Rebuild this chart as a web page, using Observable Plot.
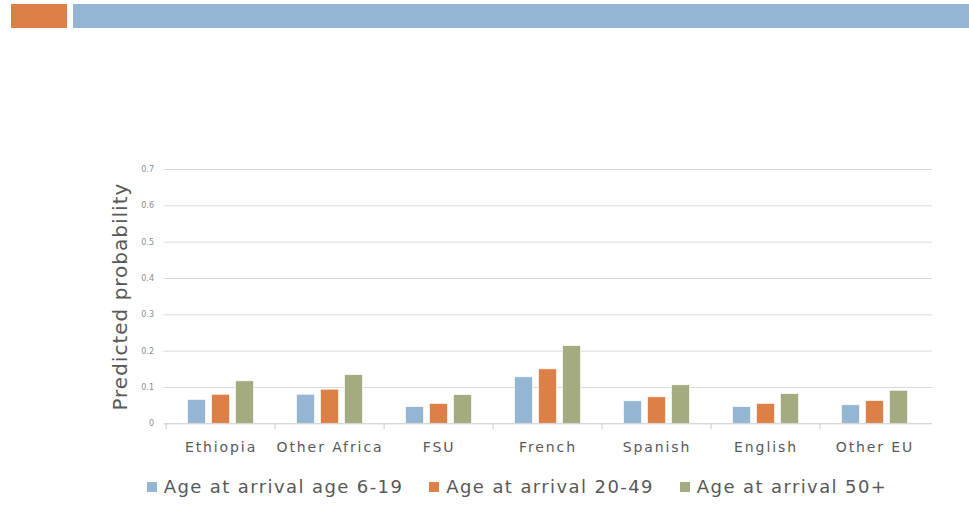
<!DOCTYPE html>
<html>
<head>
<meta charset="utf-8">
<script src="https://cdn.jsdelivr.net/npm/d3@7"></script>
<script src="https://cdn.jsdelivr.net/npm/@observablehq/plot@0.6"></script>
<style>
  html, body { margin: 0; padding: 0; background: #fff; }
  body { width: 969px; height: 507px; position: relative; overflow: hidden; font-family: "DejaVu Sans", sans-serif; }
  .hdr { position: absolute; top: 4px; height: 24px; }
  #chart { position: absolute; left: 0; top: 0; }
  #legend { position: absolute; top: 476px; left: 0; width: 1034px; display: flex; justify-content: center; gap: 26px; color: #595959; font-size: 18px; letter-spacing: 1.4px; }
  #legend .item { display: flex; align-items: center; white-space: nowrap; }
  #legend .sw { width: 10px; height: 10px; margin-right: 7px; }
  g[aria-label="x-axis tick label"] text { letter-spacing: 1.9px; }
  g.ylab text { letter-spacing: 1px; }
</style>
</head>
<body>
<div class="hdr" style="left:11px;width:56px;background:#DD8047"></div>
<div class="hdr" style="left:73px;width:896px;background:#94B6D2"></div>
<div id="chart"></div>
<div id="legend"></div>
<script>
const categories = ["Ethiopia", "Other Africa", "FSU", "French", "Spanish", "English", "Other EU"];
const seriesNames = ["Age at arrival age 6-19", "Age at arrival 20-49", "Age at arrival 50+"];
const age6to19  = [0.066, 0.080, 0.046, 0.128, 0.062, 0.046, 0.051];
const age20to49 = [0.080, 0.094, 0.055, 0.150, 0.073, 0.055, 0.063];
const age50plus = [0.117, 0.134, 0.079, 0.214, 0.106, 0.082, 0.091];
const yTicks = [0, 0.1, 0.2, 0.3, 0.4, 0.5, 0.6, 0.7];
const yLabel = "Predicted probability";
const colors = ["#94B6D2", "#DD8047", "#A5AB81"];

const seriesValues = [age6to19, age20to49, age50plus];
const rows = seriesValues.map((vals, s) => categories.map((c, i) => ({category: c, series: seriesNames[s], value: vals[i]})));

const W = 969, H = 465;
const mL = 163.5, mR = 37, mT = 169, mB = H - 423.3;
const step = (W - mL - mR) / categories.length;
const barW = 19, barStep = 24;
const inset = (step - barW) / 2;

const barMarks = rows.map((data, s) => Plot.barY(data, {
  x: "category", y: "value", fill: colors[s],
  insetLeft: inset, insetRight: inset, dx: (s - 1) * barStep,
  stroke: "#ffffff", strokeWidth: 0.7
}));

const chart = Plot.plot({
  width: W, height: H,
  marginLeft: mL, marginRight: mR, marginTop: mT, marginBottom: mB,
  style: {fontFamily: "DejaVu Sans, sans-serif", background: "transparent"},
  x: {type: "band", domain: categories, padding: 0},
  y: {domain: [0, 0.7]},
  marks: [
    Plot.gridY(yTicks.filter(d => d > 0), {stroke: "#d9d9d9", strokeOpacity: 1, strokeWidth: 1}),
    Plot.axisY({ticks: yTicks, tickSize: 0, tickPadding: 10, fontSize: 8, color: "#8c8c8c",
      tickFormat: d => d === 0 ? "0" : d.toFixed(1), label: null}),
    Plot.axisX({tickSize: 0, tickPadding: 18, fontSize: 14, color: "#595959", label: null}),
    Plot.text([yLabel], {text: d => d, frameAnchor: "left", textAnchor: "middle", rotate: -90, dx: -43, fontSize: 20, fill: "#595959", className: "ylab"}),
    ...barMarks,
    Plot.ruleY([0], {stroke: "#c8c8c8", strokeWidth: 1}),
    Plot.ruleX(categories, {x: d => d, dx: -step / 2, y1: 0, y2: -0.016, stroke: "#c8c8c8", strokeWidth: 1})
  ]
});
document.getElementById("chart").appendChild(chart);

const legend = document.getElementById("legend");
seriesNames.forEach((name, s) => {
  const item = document.createElement("div");
  item.className = "item";
  const sw = document.createElement("span");
  sw.className = "sw";
  sw.style.background = colors[s];
  const t = document.createElement("span");
  t.textContent = name;
  item.appendChild(sw);
  item.appendChild(t);
  legend.appendChild(item);
});
</script>
</body>
</html>
